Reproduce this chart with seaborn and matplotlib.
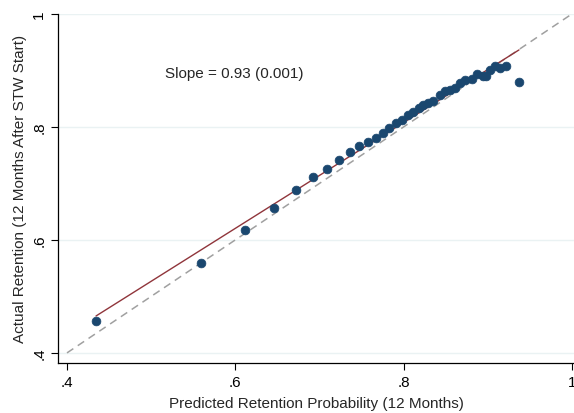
import numpy as np
import pandas as pd
import matplotlib
matplotlib.use("Agg")
import matplotlib.pyplot as plt
import seaborn as sns

# binned predicted vs actual retention
predicted = [0.4345, 0.559, 0.611, 0.646, 0.672, 0.692, 0.709, 0.723, 0.736,
             0.747, 0.758, 0.767, 0.775, 0.783, 0.791, 0.798, 0.805, 0.811,
             0.818, 0.823, 0.829, 0.835, 0.843, 0.849, 0.855, 0.861, 0.867,
             0.873, 0.881, 0.887, 0.894, 0.898, 0.903, 0.909, 0.914, 0.922,
             0.937]
actual = [0.457, 0.560, 0.617, 0.657, 0.689, 0.712, 0.725, 0.741, 0.755,
          0.766, 0.773, 0.780, 0.789, 0.798, 0.807, 0.812, 0.821, 0.826,
          0.833, 0.838, 0.842, 0.846, 0.856, 0.863, 0.865, 0.869, 0.878,
          0.883, 0.885, 0.894, 0.890, 0.890, 0.901, 0.908, 0.904, 0.908,
          0.879]
slope_text = "Slope = 0.93 (0.001)"
ticks = [0.4, 0.6, 0.8, 1.0]
tick_labels = [".4", ".6", ".8", "1"]

df = pd.DataFrame({"pred": predicted, "act": actual})

sns.set_style("white")
plt.rcParams["font.family"] = ["Liberation Sans", "DejaVu Sans"]

fig = plt.figure(figsize=(5.74, 4.14), dpi=100)
ax = fig.add_axes([0.101, 0.121, 0.899, 0.843])

# 45 degree line
ax.plot([0.4, 1.0], [0.4, 1.0], color="#a0a0a0", lw=1.1, ls=(0, (5, 3.5)), zorder=1)

sns.scatterplot(data=df, x="pred", y="act", ax=ax, color="#1a476f", s=40,
                edgecolor="#1a476f", linewidth=0.5, zorder=3)
sns.regplot(data=df, x="pred", y="act", ax=ax, scatter=False, ci=None,
            color="#90353b", line_kws={"lw": 1.0, "zorder": 2})

ax.set_xlim(0.3893, 1.0024)
ax.set_ylim(0.3823, 1.0)
ax.set_xticks(ticks)
ax.set_xticklabels(tick_labels)
ax.set_yticks(ticks)
ax.set_yticklabels(tick_labels, rotation=90, va="center")
ax.tick_params(axis="both", direction="out", length=5, width=0.8,
               labelsize=11, colors="black", bottom=True, left=True)
ax.grid(axis="y", color="#eaf2f3", lw=1)
ax.set_axisbelow(True)
for s in ["top", "right"]:
    ax.spines[s].set_visible(False)
for s in ["left", "bottom"]:
    ax.spines[s].set_color("black")
    ax.spines[s].set_linewidth(0.9)

ax.set_xlabel("Predicted Retention Probability (12 Months)", fontsize=11, labelpad=5)
ax.set_ylabel("Actual Retention (12 Months After STW Start)", fontsize=11, labelpad=4)
ax.text(0.517, 0.895, slope_text, fontsize=11, va="center", ha="left")

fig.savefig("out.png", dpi=100)
